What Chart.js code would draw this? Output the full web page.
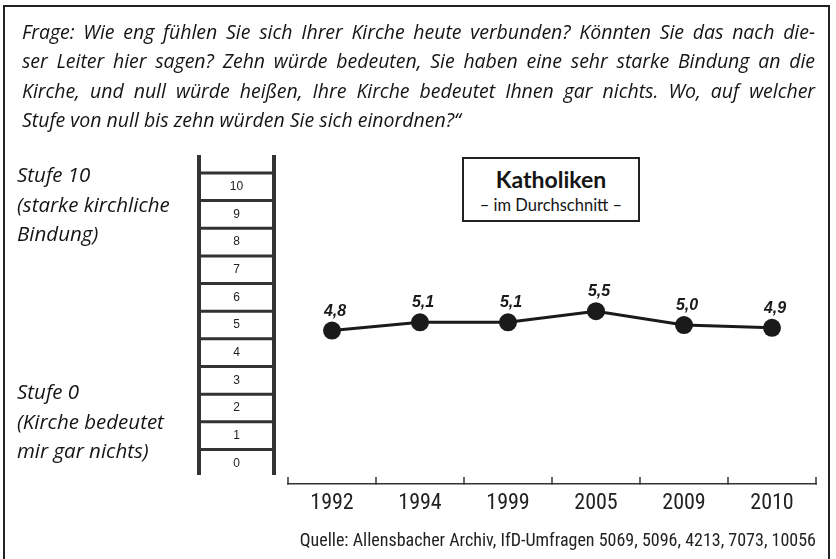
<!DOCTYPE html>
<html><head><meta charset="utf-8">
<script src="https://cdn.jsdelivr.net/npm/chart.js@4.4.1/dist/chart.umd.min.js"></script>
<style>
html,body{margin:0;padding:0;background:#fff;}
#wrap{position:relative;width:836px;height:559px;overflow:hidden;background:#fff;}
#frame{position:absolute;left:3px;top:5px;width:827px;height:600px;border:2px solid #222;box-sizing:border-box;}
#c{position:absolute;left:0;top:0;}
.q{position:absolute;left:22px;top:16.5px;width:793px;font-family:'Open Sans','Noto Sans',sans-serif;font-style:italic;font-size:19.5px;color:#151515;line-height:29.5px;}
.q div{white-space:nowrap;text-align:justify;text-align-last:justify;}
.q div.last{text-align-last:left;}
.note{position:absolute;left:17px;font-family:'Open Sans','Noto Sans',sans-serif;font-style:italic;font-size:20.5px;color:#151515;line-height:29.5px;white-space:nowrap;}
#box{position:absolute;left:462px;top:157px;width:178px;height:65px;border:2px solid #222;box-sizing:border-box;background:#fff;text-align:center;font-family:Lato,sans-serif;color:#151515;}
#box .t{font-weight:bold;font-size:23px;line-height:24px;margin-top:8px;}
#box .s{font-size:16.5px;line-height:20px;margin-top:4px;}
#src{position:absolute;right:20px;top:529px;font-family:'Liberation Sans Narrow','Roboto Condensed','Liberation Sans',sans-serif;font-size:18px;color:#222;white-space:nowrap;}
</style></head>
<body>
<div id="wrap">
<div id="frame"></div>
<canvas id="c" width="836" height="559"></canvas>
<div class="q" id="q">
<div>Frage: Wie eng fühlen Sie sich Ihrer Kirche heute verbunden? Könnten Sie das nach die-</div>
<div>ser Leiter hier sagen? Zehn würde bedeuten, Sie haben eine sehr starke Bindung an die</div>
<div>Kirche, und null würde heißen, Ihre Kirche bedeutet Ihnen gar nichts. Wo, auf welcher</div>
<div class="last">Stufe von null bis zehn würden Sie sich einordnen?“</div>
</div>
<div class="note" style="top:160px">Stufe 10<br>(starke kirchliche<br>Bindung)</div>
<div class="note" style="top:377px">Stufe 0<br>(Kirche bedeutet<br>mir gar nichts)</div>
<div id="box"><div class="t">Katholiken</div><div class="s">– im Durchschnitt –</div></div>
<div id="src">Quelle: Allensbacher Archiv, IfD-Umfragen 5069, 5096, 4213, 7073, 10056</div>
</div>
<script>
const years = ['1992', '1994', '1999', '2005', '2009', '2010'];
const katholiken = [4.8, 5.1, 5.1, 5.5, 5.0, 4.9];
const ladderLevels = [0, 1, 2, 3, 4, 5, 6, 7, 8, 9, 10];

// keep justified question lines from overflowing
document.querySelectorAll('#q div').forEach(d => {
  const span = document.createElement('span');
  span.textContent = d.textContent;
  span.style.whiteSpace = 'nowrap';
  d.textContent = '';
  d.appendChild(span);
  const w = span.getBoundingClientRect().width;
  const max = 790;
  if (w > max) {
    d.style.letterSpacing = (-(w - max) / span.textContent.length) + 'px';
  }
  d.textContent = span.textContent;
});

const ladderPlugin = {
  id: 'ladder',
  beforeDatasetsDraw(chart) {
    const y = chart.scales.y, ctx = chart.ctx;
    const xl = 199, xr = 274;
    ctx.save();
    ctx.strokeStyle = '#333';
    ctx.lineWidth = 4;
    const top = y.getPixelForValue(11.15), bot = y.getPixelForValue(-0.42);
    ctx.beginPath();
    ctx.moveTo(xl, top); ctx.lineTo(xl, bot);
    ctx.moveTo(xr, top); ctx.lineTo(xr, bot);
    ctx.stroke();
    ctx.lineWidth = 3;
    ctx.beginPath();
    ladderLevels.forEach(l => {
      const py = y.getPixelForValue(l + 0.5);
      ctx.moveTo(xl, py); ctx.lineTo(xr, py);
    });
    ctx.stroke();
    ctx.fillStyle = '#222';
    ctx.font = '12px "Liberation Sans", Arial, sans-serif';
    ctx.textAlign = 'center';
    ctx.textBaseline = 'middle';
    ladderLevels.forEach(l => {
      ctx.fillText(String(l), (xl + xr) / 2, y.getPixelForValue(l));
    });
    const x = chart.scales.x;
    ctx.strokeStyle = '#333';
    ctx.lineWidth = 1.5;
    ctx.beginPath();
    for (let i = 0; i <= years.length; i++) {
      const px = Math.round(x.getPixelForValue(i - 0.5));
      ctx.moveTo(px, x.top + 0.5); ctx.lineTo(px, x.top - 7);
    }
    ctx.stroke();
    ctx.restore();
  },
  afterDatasetsDraw(chart) {
    const ctx = chart.ctx;
    const meta = chart.getDatasetMeta(0);
    ctx.save();
    ctx.fillStyle = '#1a1a1a';
    ctx.font = 'italic bold 16px "Liberation Sans", Arial, sans-serif';
    ctx.textAlign = 'center';
    ctx.textBaseline = 'alphabetic';
    meta.data.forEach((pt, i) => {
      ctx.fillText(katholiken[i].toFixed(1).replace('.', ','), pt.x + 3, pt.y - 15);
    });
    ctx.restore();
  }
};

new Chart(document.getElementById('c'), {
  type: 'line',
  data: {
    labels: years,
    datasets: [{
      data: katholiken,
      borderColor: '#1a1a1a',
      borderWidth: 3,
      backgroundColor: '#1a1a1a',
      pointRadius: 9,
      pointBorderWidth: 0,
      pointBackgroundColor: '#1a1a1a',
      tension: 0
    }]
  },
  options: {
    responsive: false,
    animation: false,
    devicePixelRatio: 1,
    layout: { padding: { left: 288, right: 20, top: 155, bottom: 35 } },
    plugins: { legend: { display: false }, tooltip: { enabled: false } },
    scales: {
      x: {
        offset: true,
        grid: { display: false, drawTicks: false },
        border: { display: true, color: '#333', width: 1.5 },
        ticks: {
          padding: 6,
          color: '#222',
          maxRotation: 0,
          font: { family: "'Liberation Sans Narrow','Roboto Condensed','Liberation Sans',sans-serif", size: 22 }
        },
        afterFit(s) { s.height = 40; }
      },
      y: {
        display: false,
        min: -0.75,
        max: 11.15
      }
    }
  },
  plugins: [ladderPlugin]
});
</script>
</body></html>
